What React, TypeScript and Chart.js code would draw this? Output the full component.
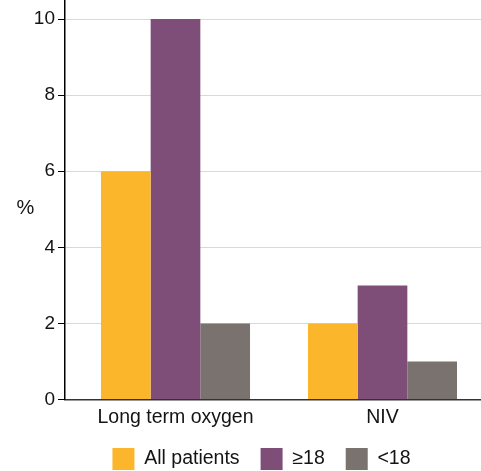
import React, { useEffect, useRef } from "react";
import { Chart, registerables } from "chart.js";

Chart.register(...registerables);

const categories = ["Long term oxygen", "NIV"];
const allPatients = [6, 2];
const adults = [10, 3];
const minors = [2, 1];
const seriesNames = ["All patients", "≥18", "<18"];
const yTicks = [0, 2, 4, 6, 8, 10];

const FONT = "'Liberation Sans', Arial, Helvetica, sans-serif";
const TEXT = "#141414";

const percentLabel = {
  id: "percentLabel",
  afterDraw(chart: any) {
    const { ctx, chartArea } = chart;
    ctx.save();
    ctx.font = `20px ${FONT}`;
    ctx.fillStyle = TEXT;
    ctx.textAlign = "center";
    ctx.textBaseline = "middle";
    ctx.fillText("%", 25.5, (chartArea.top + chartArea.bottom) / 2 + 9);
    ctx.restore();
  },
};

export default function App() {
  const ref = useRef<HTMLCanvasElement | null>(null);
  useEffect(() => {
    if (!ref.current) return;
    const chart = new Chart(ref.current, {
      type: "bar",
      data: {
        labels: categories,
        datasets: [
          { label: seriesNames[0], data: allPatients, backgroundColor: "#FBB62B" },
          { label: seriesNames[1], data: adults, backgroundColor: "#7E4E79" },
          { label: seriesNames[2], data: minors, backgroundColor: "#79726F" },
        ],
      },
      options: {
        animation: false,
        responsive: true,
        maintainAspectRatio: false,
        layout: { padding: { left: 0, right: -42, top: 0, bottom: -9 } },
        datasets: {
          bar: { categoryPercentage: 0.72, barPercentage: 1 },
        },
        plugins: {
          tooltip: { enabled: false },
          legend: {
            position: "bottom",
            labels: {
              boxWidth: 22,
              boxHeight: 22,
              padding: 21,
              color: TEXT,
              font: { family: FONT, size: 19.5 },
            },
          },
        },
        scales: {
          x: {
            type: "category",
            offset: true,
            grid: { display: false, drawTicks: false },
            border: { display: true, color: "#333333", width: 1.5 },
            ticks: {
              color: TEXT,
              padding: 6,
              font: { family: FONT, size: 19.5 },
            },
            afterBuildTicks: (s: any) => {
              s._startValue = -0.5338;
              s._valueRange = 2.0097;
            },
            afterFit: (s: any) => {
              s.height -= 8;
            },
          },
          y: {
            min: 0,
            max: 10.5,
            grid: { color: "#d9d9d9", tickColor: "#000000", tickLength: 7, lineWidth: 1 },
            border: { display: true, color: "#000000", width: 1.5 },
            ticks: {
              stepSize: 2,
              includeBounds: false,
              padding: 3,
              color: TEXT,
              font: { family: FONT, size: 19 },
            },
            afterBuildTicks: (s: any) => {
              s.ticks = yTicks.map((v) => ({ value: v }));
            },
            afterFit: (s: any) => {
              s.width = 65;
              s.paddingTop = 0;
              s.paddingBottom = 0;
            },
          },
        },
      },
      plugins: [percentLabel],
    } as any);
    return () => chart.destroy();
  }, []);
  return (
    <div style={{ position: "absolute", left: 0, top: 0, width: 481, height: 471 }}>
      <canvas ref={ref} />
    </div>
  );
}
